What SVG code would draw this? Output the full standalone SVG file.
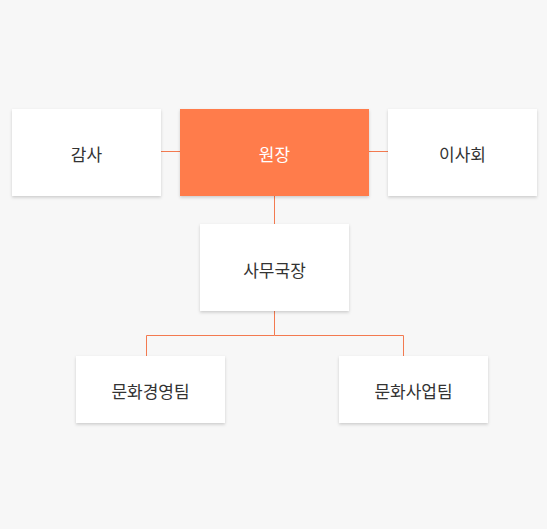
<svg xmlns="http://www.w3.org/2000/svg" width="547" height="529" viewBox="0 0 547 529">
<defs>
<filter id="sh" x="-10%" y="-10%" width="120%" height="130%">
<feDropShadow dx="0" dy="1.5" stdDeviation="1.5" flood-color="#000" flood-opacity="0.18"/>
</filter>
<style>
.box{fill:#ffffff;filter:url(#sh);}
.main{fill:#ff7b4b;filter:url(#sh);}
.t{font-family:"Noto Sans CJK KR","Noto Sans",sans-serif;font-size:17px;fill:#333333;text-anchor:middle;dominant-baseline:central;}
.tw{fill:#ffffff;}
.ln{stroke:#f37a50;stroke-width:1;fill:none;}
</style>
</defs>
<rect width="547" height="529" fill="#f7f7f7"/>
<g id="connectors">
<line class="ln" x1="161" y1="151.5" x2="180" y2="151.5"/>
<line class="ln" x1="369" y1="151.5" x2="388" y2="151.5"/>
<line class="ln" x1="274.5" y1="196" x2="274.5" y2="224"/>
<polyline class="ln" points="274.5,311 274.5,335.5 146.5,335.5 146.5,356"/>
<polyline class="ln" points="274.5,335.5 403.5,335.5 403.5,356"/>
</g>
<g id="node-gamsa"><rect class="box" x="12" y="109" width="149" height="87"/><text class="t" x="86.5" y="153">감사</text></g>
<g id="node-wonjang"><rect class="main" x="180" y="109" width="189" height="87"/><text class="t tw" x="274.5" y="153">원장</text></g>
<g id="node-isahoe"><rect class="box" x="388" y="109" width="149" height="87"/><text class="t" x="462.5" y="153">이사회</text></g>
<g id="node-samuguk"><rect class="box" x="200" y="224" width="149" height="87"/><text class="t" x="274.5" y="269">사무국장</text></g>
<g id="node-team1"><rect class="box" x="76" y="356" width="149" height="67"/><text class="t" x="150.5" y="390.5">문화경영팀</text></g>
<g id="node-team2"><rect class="box" x="339" y="356" width="149" height="67"/><text class="t" x="413.5" y="390.5">문화사업팀</text></g>
</svg>
